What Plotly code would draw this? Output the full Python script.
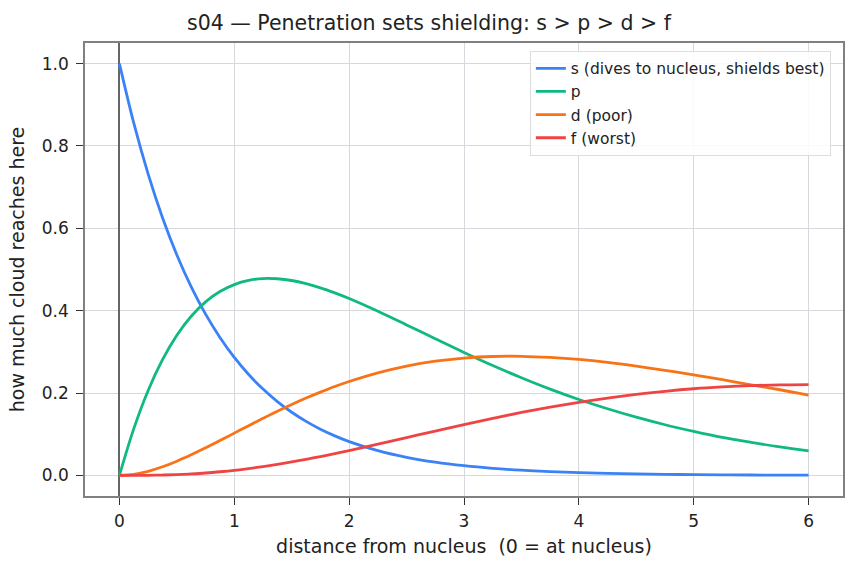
import plotly.graph_objects as go

x = [0, 0.125, 0.25, 0.375, 0.5, 0.625, 0.75, 0.875, 1.0, 1.125, 1.25, 1.375, 1.5,
     1.625, 1.75, 1.875, 2.0, 2.25, 2.5, 2.75, 3.0,
     3.25, 3.5, 3.75, 4.0, 4.25, 4.5, 4.75, 5.0, 5.25, 5.5, 5.75, 6.0]

s_vals = [1.000, 0.8553, 0.7316, 0.6258, 0.5353, 0.4578, 0.3916, 0.3350, 0.2865,
          0.2451, 0.2096, 0.1793, 0.1534, 0.1312, 0.1122, 0.0960, 0.0821,
          0.0601, 0.0439, 0.0321, 0.0235, 0.0172, 0.0126, 0.0092, 0.0067, 0.0049,
          0.0036, 0.0026, 0.0019, 0.0014, 0.0010, 0.0008, 0.0006]
p_vals = [0.0, 0.1135, 0.2063, 0.2810, 0.3404, 0.3864, 0.4213, 0.4464, 0.4634,
          0.4735, 0.4780, 0.4775, 0.4733, 0.4656, 0.4555, 0.4432, 0.4296,
          0.3987, 0.3655, 0.3317, 0.2985, 0.2668, 0.2373, 0.2096, 0.1844, 0.1619,
          0.1413, 0.1230, 0.1070, 0.0924, 0.0803, 0.0690, 0.0594]
d_vals = [0.0, 0.0027, 0.0100, 0.0209, 0.0345, 0.0500, 0.0669, 0.0847, 0.1027,
          0.1208, 0.1385, 0.1558, 0.1722, 0.1878, 0.2023, 0.2159, 0.2281,
          0.2492, 0.2656, 0.2774, 0.2850, 0.2888, 0.2892, 0.2864, 0.2815, 0.2743,
          0.2652, 0.2550, 0.2442, 0.2325, 0.2199, 0.2080, 0.1951]
f_vals = [0.0, 0.0000, 0.0003, 0.0009, 0.0020, 0.0037, 0.0059, 0.0089, 0.0124,
          0.0166, 0.0214, 0.0268, 0.0327, 0.0390, 0.0458, 0.0529, 0.0603,
          0.0758, 0.0918, 0.1078, 0.1235, 0.1386, 0.1528, 0.1658, 0.1775, 0.1879,
          0.1969, 0.2043, 0.2104, 0.2148, 0.2180, 0.2198, 0.2205]

names = ["s (dives to nucleus, shields best)", "p", "d (poor)", "f (worst)"]
colors = ["#3b82f6", "#10b981", "#f97316", "#ef4444"]
series = [s_vals, p_vals, d_vals, f_vals]

x_ticks = [0, 1, 2, 3, 4, 5, 6]
y_ticks = [0.0, 0.2, 0.4, 0.6, 0.8, 1.0]

FONT = "DejaVu Sans"

fig = go.Figure()
for name, col, ys in zip(names, colors, series):
    fig.add_trace(go.Scatter(
        x=x, y=ys, mode="lines", name=name,
        line=dict(color=col, width=2.8, shape="spline", smoothing=1.0),
    ))

fig.update_layout(
    width=858, height=569,
    margin=dict(l=85, r=15, t=43, b=73),
    paper_bgcolor="white", plot_bgcolor="white",
    font=dict(family=FONT, size=17, color="#222"),
    title=dict(text="s04 — Penetration sets shielding: s > p > d > f",
               x=0.5, xanchor="center", y=0.96, yanchor="middle",
               font=dict(size=20.5, color="#222")),
    legend=dict(x=0.984, y=0.983, xanchor="right", yanchor="top",
                bgcolor="rgba(255,255,255,0.85)", bordercolor="#ddd", borderwidth=1,
                font=dict(size=15.5, color="#222"), tracegroupgap=0, itemwidth=30),
    showlegend=True,
)
fig.update_xaxes(
    range=[-0.3, 6.3], tickvals=x_ticks, ticktext=[str(v) for v in x_ticks],
    showgrid=True, gridcolor="#d5d9de", gridwidth=1,
    zeroline=True, zerolinecolor="#666", zerolinewidth=1.5,
    showline=True, linecolor="#808080", linewidth=1.5, mirror=True,
    ticks="outside", ticklen=7, tickwidth=1.3, tickcolor="#333",
    ticklabelstandoff=2,
    title=dict(text="distance from nucleus  (0 = at nucleus)", font=dict(size=19), standoff=10),
)
fig.update_yaxes(
    range=[-0.05, 1.05], tickvals=y_ticks, ticktext=[f"{v:.1f}" for v in y_ticks],
    showgrid=True, gridcolor="#d5d9de", gridwidth=1, zeroline=False,
    showline=True, linecolor="#808080", linewidth=1.5, mirror=True,
    ticks="outside", ticklen=7, tickwidth=1.3, tickcolor="#333",
    ticklabelstandoff=4,
    title=dict(text="how much cloud reaches here", font=dict(size=19), standoff=12),
)

fig.write_html("out.html")
